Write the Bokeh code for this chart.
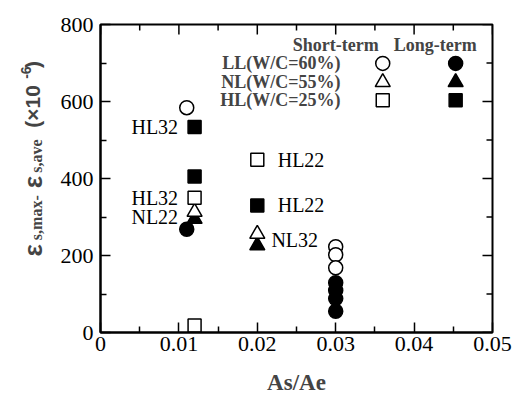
import math
from bokeh.plotting import figure
from bokeh.layouts import row
from bokeh.models import Range1d, FixedTicker, Label
from bokeh.embed import file_html
from bokeh.resources import INLINE

# ---- data ----
ll_short_x = [0.011, 0.030, 0.030, 0.030]
ll_short_y = [584, 223, 202, 168]
ll_long_x = [0.011, 0.030, 0.030, 0.030, 0.030]
ll_long_y = [268, 129, 109, 88, 55]
nl_short_x = [0.012, 0.020]
nl_short_y = [313, 256]
nl_long_x = [0.012, 0.020]
nl_long_y = [295, 226]
hl_short_x = [0.012, 0.012, 0.020]
hl_short_y = [350, 18, 449]
hl_long_x = [0.012, 0.012, 0.020]
hl_long_y = [534, 405, 330]

x_ticks = [0, 0.01, 0.02, 0.03, 0.04, 0.05]
x_tick_labels = ["0", "0.01", "0.02", "0.03", "0.04", "0.05"]
x_minor = [0.005, 0.015, 0.025, 0.035, 0.045]
y_ticks = [0, 200, 400, 600, 800]
y_minor = [100, 300, 500, 700]

legend_labels = ["LL(W/C=60%)", "NL(W/C=55%)", "HL(W/C=25%)"]
legend_markers = ["circle", "triangle", "square"]

annotations = [
    ("HL32", 0.0099, 534, "right"),
    ("HL32", 0.0099, 350, "right"),
    ("NL22", 0.0099, 300, "right"),
    ("HL22", 0.0226, 449, "left"),
    ("HL22", 0.0226, 330, "left"),
    ("NL32", 0.0218, 241, "left"),
]

SERIF = "Liberation Serif"
SANS = "Liberation Sans"

H = 397
LW_PANEL = 54               # width of the strip holding the y title
W = 514 - LW_PANEL
FL, FR, FT, FB = 100 - LW_PANEL, 492 - LW_PANEL, 24, 333  # frame edges in main figure

p = figure(width=W, height=H, output_backend="svg", toolbar_location=None,
           x_range=Range1d(0, 0.05), y_range=Range1d(0, 800),
           min_border_left=FL, min_border_right=W - FR, min_border_top=FT,
           min_border_bottom=H - FB)
p.grid.visible = False
p.outline_line_color = "black"
p.outline_line_width = 2
p.background_fill_color = "white"
p.border_fill_color = "white"

for ax in (p.xaxis[0], p.yaxis[0]):
    ax.axis_line_width = 2
    ax.axis_line_color = "black"
    ax.major_tick_in = 10
    ax.major_tick_out = 0
    ax.minor_tick_in = 6
    ax.minor_tick_out = 0
    ax.major_tick_line_width = 1.5
    ax.minor_tick_line_width = 1.5
    ax.major_label_text_font = SERIF
    ax.major_label_text_font_size = "22px"
    ax.major_label_text_color = "black"

p.xaxis.ticker = FixedTicker(ticks=x_ticks, minor_ticks=x_minor)
p.yaxis.ticker = FixedTicker(ticks=y_ticks, minor_ticks=y_minor)
p.xaxis.major_label_overrides = {t: l for t, l in zip(x_ticks, x_tick_labels)}
p.xaxis.major_label_standoff = 4
p.yaxis.major_label_standoff = 7
p.xaxis.axis_label = "As/Ae"
p.xaxis.axis_label_text_font = SERIF
p.xaxis.axis_label_text_font_style = "bold"
p.xaxis.axis_label_text_font_size = "23px"
p.xaxis.axis_label_standoff = 16

# mirror ticks on top and right edges (inside the frame)
ypp = 800.0 / (FB - FT)      # data units per pixel, y
xpp = 0.05 / (FR - FL)       # data units per pixel, x
for ticks, ln in ((x_ticks, 10), (x_minor, 6)):
    p.segment(x0=ticks, y0=[800] * len(ticks), x1=ticks, y1=[800 - ln * ypp] * len(ticks),
              line_color="black", line_width=1.5)
for ticks, ln in ((y_ticks, 10), (y_minor, 6)):
    p.segment(x0=[0.05] * len(ticks), y0=ticks, x1=[0.05 - ln * xpp] * len(ticks), y1=ticks,
              line_color="black", line_width=1.5)

# ---- points ----
LW = 1.5
p.scatter(ll_long_x, ll_long_y, marker="circle", size=14, fill_color="black", line_color="black", line_width=LW)
p.scatter(ll_short_x, ll_short_y, marker="circle", size=14, fill_color="white", line_color="black", line_width=LW)
p.scatter(nl_long_x, nl_long_y, marker="triangle", size=15, fill_color="black", line_color="black", line_width=LW)
p.scatter(nl_short_x, nl_short_y, marker="triangle", size=15, fill_color="white", line_color="black", line_width=LW)
p.scatter(hl_long_x, hl_long_y, marker="square", size=13, fill_color="black", line_color="black", line_width=LW)
p.scatter(hl_short_x, hl_short_y, marker="square", size=13, fill_color="white", line_color="black", line_width=LW)

for txt, x, y, al in annotations:
    p.add_layout(Label(x=x, y=y, text=txt, text_font=SERIF, text_font_size="20px",
                       text_align=al, text_baseline="middle", text_color="black"))

# ---- legend (drawn manually) ----
leg_x_short = 0.0360
leg_x_long = 0.0453
leg_label_x = 0.0306
leg_rows_y = [699, 650, 603]
leg_head_y = 748

p.add_layout(Label(x=0.0300, y=leg_head_y, text="Short-term", text_font=SERIF, text_font_style="bold",
                   text_font_size="18px", text_align="center", text_baseline="middle"))
p.add_layout(Label(x=0.0427, y=leg_head_y, text="Long-term", text_font=SERIF, text_font_style="bold",
                   text_font_size="18px", text_align="center", text_baseline="middle"))
for lab, mk, yy in zip(legend_labels, legend_markers, leg_rows_y):
    p.add_layout(Label(x=leg_label_x, y=yy, text=lab, text_font=SERIF, text_font_style="bold",
                       text_font_size="18px", text_align="right", text_baseline="middle"))
    sz = 14 if mk == "circle" else (15 if mk == "triangle" else 13)
    p.scatter([leg_x_short], [yy], marker=mk, size=sz, fill_color="white", line_color="black", line_width=LW)
    p.scatter([leg_x_long], [yy], marker=mk, size=sz, fill_color="black", line_color="black", line_width=LW)

# ---- y axis title strip: a small figure whose data units are pixels ----
q = figure(width=LW_PANEL, height=H, output_backend="svg", toolbar_location=None,
           x_range=Range1d(0, LW_PANEL), y_range=Range1d(0, H),
           x_axis_location=None, y_axis_location=None, min_border=0)
q.grid.visible = False
q.outline_line_color = None
q.background_fill_color = "white"
q.border_fill_color = "white"

A = math.pi / 2
ylab_parts = [
    ("ε", SANS, "bold", "26px", 32, 299),
    ("s,max-", SERIF, "bold", "16px", 36, 278),
    ("ε", SANS, "bold", "26px", 32, 211),
    ("s,ave", SERIF, "bold", "16px", 36, 191),
    ("(×10", SANS, "bold", "21px", 32, 133),
    ("-6", SANS, "bold", "14px", 25, 70),
    (")", SANS, "bold", "21px", 32, 56),
]
for txt, font, style, size, px, py in ylab_parts:
    q.add_layout(Label(x=px, y=H - py, text=txt, text_font=font, text_font_style=style,
                       text_font_size=size, angle=A, text_align="left", text_baseline="middle"))

open("out.html", "w").write(file_html(row(q, p, spacing=0), INLINE))
